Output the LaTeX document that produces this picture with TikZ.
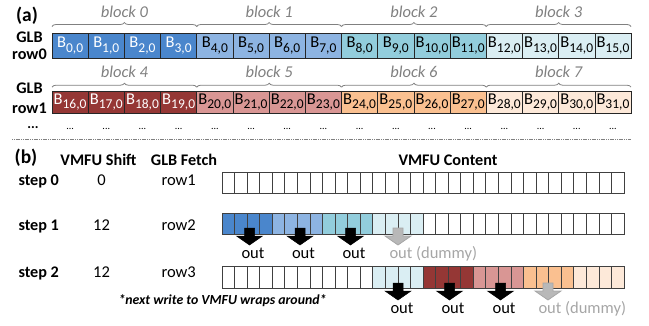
\documentclass[tikz,border=0pt]{standalone}
\usepackage{fontspec}
\setmainfont{Carlito}
\usetikzlibrary{decorations.pathreplacing,calc}
\definecolor{c0}{RGB}{74,134,204}
\definecolor{c1}{RGB}{141,180,226}
\definecolor{c2}{RGB}{146,205,220}
\definecolor{c3}{RGB}{218,238,243}
\definecolor{c4}{RGB}{149,55,53}
\definecolor{c5}{RGB}{217,150,148}
\definecolor{c6}{RGB}{250,192,144}
\definecolor{c7}{RGB}{253,233,217}
\definecolor{t0}{RGB}{255,255,255}
\definecolor{t1}{RGB}{0,0,0}
\definecolor{t2}{RGB}{0,0,0}
\definecolor{t3}{RGB}{0,0,0}
\definecolor{t4}{RGB}{255,255,255}
\definecolor{t5}{RGB}{0,0,0}
\definecolor{t6}{RGB}{0,0,0}
\definecolor{t7}{RGB}{0,0,0}
\definecolor{lblgray}{RGB}{128,128,128}
\definecolor{dummygray}{RGB}{166,166,166}
\newcommand\bsubs[1]{B\raisebox{-4.5pt}{\fontsize{13.5}{13.5}\selectfont #1,0}}
\tikzset{
  glbcell/.style={draw=black!85, line width=0.7pt, anchor=north west, inner sep=0pt, outer sep=0pt,
    minimum width=36.19pt, font=\fontsize{16.5}{16.5}\selectfont},
  vcell/.style={draw=black!75, line width=0.7pt, anchor=north west, inner sep=0pt, outer sep=0pt,
    minimum width=12.5625pt},
  blbl/.style={font=\fontsize{16.5}{16.5}\selectfont\itshape, text=lblgray, anchor=base},
  blkbrace/.style={decorate, decoration={brace, amplitude=4pt}, draw=lblgray, line width=0.8pt},
  boldlbl/.style={font=\fontsize{16.2}{16.2}\selectfont\bfseries, anchor=base},
  plainlbl/.style={font=\fontsize{16.5}{16.5}\selectfont, anchor=base},
  outlbl/.style={font=\fontsize{16.5}{16.5}\selectfont, anchor=base},
  blkarrow/.style={fill=black, draw=black, line width=0.5pt},
  dumarrow/.style={fill=dummygray!80, draw=dummygray, line width=0.8pt},
}
\newcommand\outarrow[4]{% #1 style, #2 cx, #3 top y, #4 name
  \coordinate (#4) at (#2,#3);
  \path[#1] ($(#4)+(-5,0)$) -- ($(#4)+(5,0)$) -- ($(#4)+(5,8)$) -- ($(#4)+(13,8)$)
    -- ($(#4)+(0,17)$) -- ($(#4)+(-13,8)$) -- ($(#4)+(-5,8)$) -- cycle;}
\begin{document}
\begin{tikzpicture}[x=1pt,y=-1pt]
\useasboundingbox (0,0) rectangle (649,325);
% ---------- (a) ----------
\node[font=\fontsize{19.5}{19.5}\selectfont\bfseries, anchor=base] (la) at (27,21.5) {(a)};
\node[boldlbl] (glb0) at (29.5,42) {GLB};
\node[boldlbl] (row0) at (29.5,59) {row0};
\node[boldlbl] (glb1) at (29.5,93.5) {GLB};
\node[boldlbl] (row1) at (29.5,113) {row1};
\node[boldlbl, font=\fontsize{14}{14}\selectfont\bfseries] (dots0) at (33,128) {...};
\foreach \i in {0,...,15}{
  \pgfmathtruncatemacro{\b}{int(\i/4)}
  \pgfmathtruncatemacro{\bb}{\b+4}
  \pgfmathtruncatemacro{\j}{\i+16}
  \node[glbcell, minimum height=25.5pt, fill=c\b, text=t\b] (r0c\i) at ({52+36.19*\i},33) {\bsubs{\i}};
  \node[glbcell, minimum height=22pt, fill=c\bb, text=t\bb] (r1c\i) at ({52+36.19*\i},91.2) {\bsubs{\j}};
  \node[font=\fontsize{10}{10}\selectfont, anchor=base] (dc\i) at ({52+36.19*(\i+0.5)},129) {...};
}
\foreach \b in {0,...,3}{
  \pgfmathtruncatemacro{\s}{4*\b}
  \pgfmathtruncatemacro{\e}{4*\b+3}
  \pgfmathtruncatemacro{\bb}{\b+4}
  \draw[blkbrace] ($(r0c\s.north west)+(0,-6.5)$) -- ($(r0c\e.north east)+(0,-6.5)$);
  \draw[blkbrace] ($(r1c\s.north west)+(0,-4)$) -- ($(r1c\e.north east)+(0,-4)$);
  \path (r0c\s.north west) -- (r0c\e.north east) node[midway, blbl, yshift=16pt] (bl\b) {block \b};
  \path (r1c\s.north west) -- (r1c\e.north east) node[midway, blbl, yshift=13.5pt] (bl\bb) {block \bb};
}
\coordinate (sepL) at (12,139);
\coordinate (sepR) at (631,139);
\draw[lblgray, line width=0.6pt, dash pattern=on 1.2pt off 0.6pt] (sepL) -- (sepR);
% ---------- (b) ----------
\node[font=\fontsize{19.5}{19.5}\selectfont\bfseries, anchor=base] (lb) at (26,163.5) {(b)};
\node[boldlbl] (hshift) at (98.5,165) {VMFU Shift};
\node[boldlbl] (hfetch) at (184,165) {GLB Fetch};
\node[boldlbl] (hcont) at (448,165) {VMFU Content};
\node[boldlbl, anchor=base west] (s0) at (15,185) {step 0};
\node[boldlbl, anchor=base west] (s1) at (15,230) {step 1};
\node[boldlbl, anchor=base west] (s2) at (15,277) {step 2};
\node[plainlbl] (sh0) at (101.5,185) {0};
\node[plainlbl] (sh1) at (101.5,230) {12};
\node[plainlbl] (sh2) at (101.5,277) {12};
\node[plainlbl, anchor=base west] (f0) at (158,185) {row1};
\node[plainlbl, anchor=base west] (f1) at (158,230) {row2};
\node[plainlbl, anchor=base west] (f2) at (158,277) {row3};
\foreach \i in {0,...,31}{
  \pgfmathtruncatemacro{\b}{int(\i/4)}
  \node[vcell, minimum height=21pt, fill=white] (v0c\i) at ({222+12.5625*\i},172) {};
  \ifnum\i<16
    \node[vcell, minimum height=21.5pt, fill=c\b] (v1c\i) at ({222+12.5625*\i},213) {};
  \else
    \node[vcell, minimum height=21.5pt, fill=white] (v1c\i) at ({222+12.5625*\i},213) {};
  \fi
  \ifnum\i<12
    \node[vcell, minimum height=21.5pt, fill=white] (v2c\i) at ({222+12.5625*\i},266.5) {};
  \else
    \node[vcell, minimum height=21.5pt, fill=c\b] (v2c\i) at ({222+12.5625*\i},266.5) {};
  \fi
}
% step 1 arrows
\outarrow{blkarrow}{249.5}{228}{a10}
\outarrow{blkarrow}{300}{228}{a11}
\outarrow{blkarrow}{350.5}{228}{a12}
\outarrow{dumarrow}{398}{228}{a13}
\node[outlbl] (o10) at (253,258) {out};
\node[outlbl] (o11) at (303.5,258) {out};
\node[outlbl] (o12) at (354,258) {out};
\node[outlbl, anchor=base west, text=dummygray] (o13) at (386,258) {out (dummy)};
% step 2 arrows
\outarrow{blkarrow}{398}{283}{a23}
\outarrow{blkarrow}{449.5}{283}{a24}
\outarrow{blkarrow}{500.5}{283}{a25}
\outarrow{dumarrow}{548}{283}{a26}
\node[outlbl] (o23) at (402,313) {out};
\node[outlbl] (o24) at (453,313) {out};
\node[outlbl] (o25) at (504,313) {out};
\node[outlbl, anchor=base west, text=dummygray] (o26) at (535,313) {out (dummy)};
\node[font=\fontsize{13.8}{13.8}\selectfont\bfseries\itshape, anchor=base] (wrap) at (222.5,304) {*next write to VMFU wraps around*};
\end{tikzpicture}
\end{document}
